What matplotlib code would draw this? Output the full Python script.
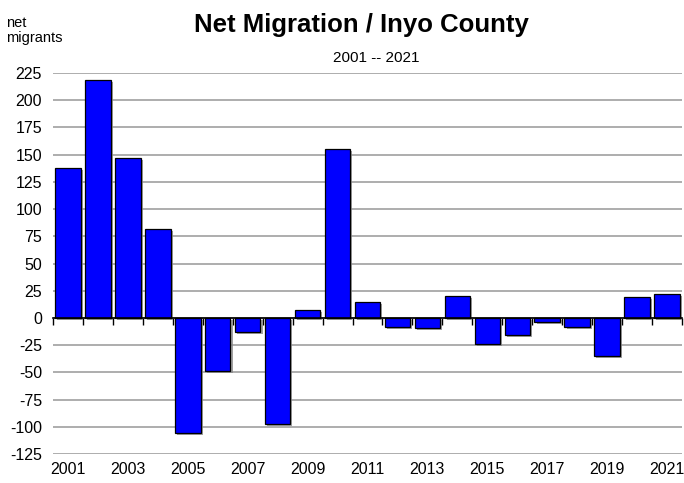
import matplotlib.pyplot as plt
import matplotlib.patheffects as pe
import numpy as np

years = list(range(2001, 2022))
migrants = [138, 219, 147, 82, -106, -49, -13, -97, 7, 155,
            15, -8, -9, 20, -24, -16, -4, -8, -35, 19, 22]
ytick_vals = list(range(-125, 226, 25))
label_years = [y for y in years if y % 2 == 1]

plt.rcParams['font.family'] = ['Liberation Sans', 'DejaVu Sans']

fig = plt.figure(figsize=(6.84, 4.83), dpi=100)
ax = fig.add_axes([53 / 684, 1 - 454 / 483, (682 - 53) / 684, (454 - 73) / 483])

x = np.arange(len(years))
bars = ax.bar(x, migrants, width=0.85, color='#0000ff', edgecolor='black',
              linewidth=0.9, zorder=3)
for b in bars:
    b.set_path_effects([pe.SimplePatchShadow(offset=(1.5, -1.5), shadow_rgbFace='#888888', alpha=0.8),
                        pe.Normal()])

ax.set_xlim(-0.5, len(years) - 0.5)
ax.set_ylim(-125, 225)
ax.set_yticks(ytick_vals)
ax.set_yticklabels([str(v) for v in ytick_vals], fontsize=11.5)
ax.yaxis.grid(True, color='#a0a0a0', linewidth=1.2, zorder=0)
ax.tick_params(axis='y', length=0, pad=8)

for s in ['left', 'right', 'top']:
    ax.spines[s].set_visible(False)
ax.spines['bottom'].set_position(('data', 0))
ax.spines['bottom'].set_linewidth(1.2)
ax.spines['bottom'].set_zorder(4)
ax.set_xticks([])
ax.set_xticks(np.arange(len(years) + 1) - 0.5, minor=True)
ax.tick_params(axis='x', which='minor', length=5, width=1, direction='out')

sec = ax.secondary_xaxis(0.0)
sec.set_xticks([years.index(y) for y in label_years])
sec.set_xticklabels([str(y) for y in label_years], fontsize=11.5)
sec.tick_params(length=0, pad=6)
sec.spines['bottom'].set_visible(False)

fig.text(361 / 684, 1 - 32 / 483, 'Net Migration / Inyo County', ha='center', va='baseline',
         fontsize=18.5, fontweight='bold')
fig.text(376 / 684, 1 - 62 / 483, '2001 -- 2021', ha='center', va='baseline', fontsize=11)
fig.text(6 / 684, 1 - 27 / 483, 'net', ha='left', va='baseline', fontsize=10.5)
fig.text(6 / 684, 1 - 42 / 483, 'migrants', ha='left', va='baseline', fontsize=10.5)

fig.savefig('out.png', dpi=100)
